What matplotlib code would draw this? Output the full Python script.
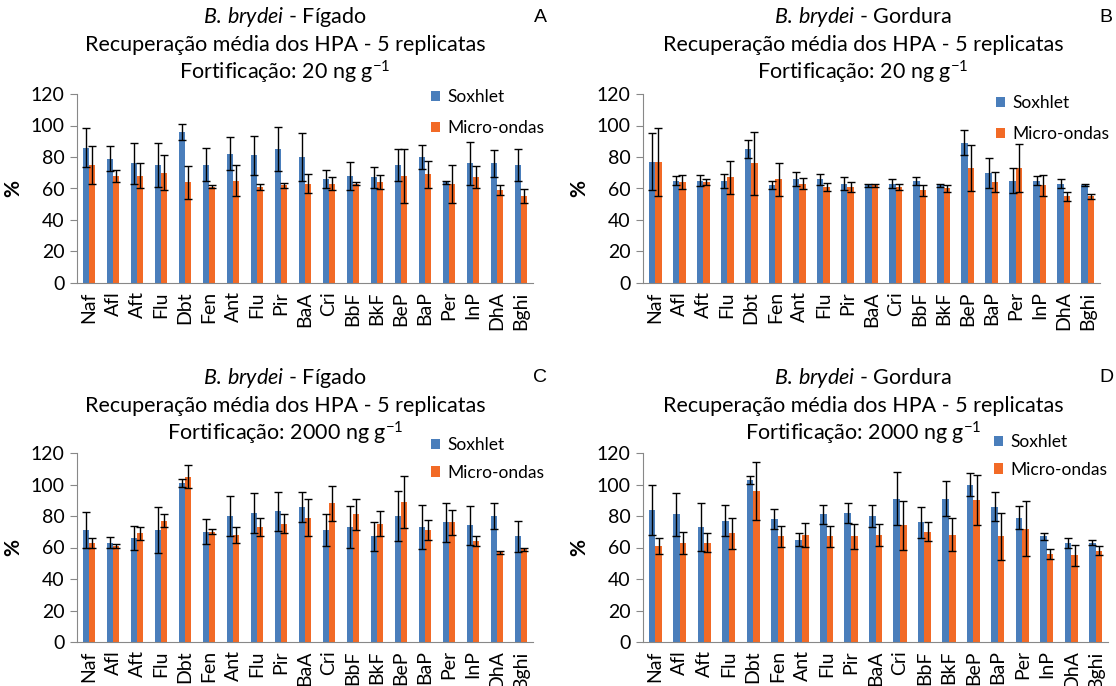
import matplotlib
matplotlib.use("Agg")
import matplotlib.pyplot as plt
import numpy as np

plt.rcParams['font.family'] = ['Lato', 'DejaVu Sans']
plt.rcParams['mathtext.fontset'] = 'custom'
plt.rcParams['mathtext.rm'] = 'Lato'
plt.rcParams['mathtext.it'] = 'Lato:italic'
plt.rcParams['mathtext.default'] = 'regular'

compounds = ['Naf', 'Afl', 'Aft', 'Flu', 'Dbt', 'Fen', 'Ant', 'Flu', 'Pir', 'BaA',
             'Cri', 'BbF', 'BkF', 'BeP', 'BaP', 'Per', 'InP', 'DhA', 'Bghi']

# Panel A - Figado, 20 ng/g
a_sox = [86, 79, 76, 75, 96, 75, 82, 81, 85, 80, 66, 68, 67, 75, 80, 64, 76, 76, 75]
a_sox_err = [12.5, 8, 13, 14, 5, 10.5, 10.5, 12.5, 14, 15, 5.5, 9, 6.5, 10, 7.5, 1, 13.5, 8.5, 10]
a_mic = [75, 68, 68, 70, 64, 61, 65, 61, 62, 63, 63, 63, 64, 68, 69, 63, 67, 59, 55]
a_mic_err = [12, 4, 8, 11, 10.5, 1, 10, 2, 1.5, 6, 4, 1, 4.5, 17, 8.5, 12, 7, 3, 4.5]

# Panel B - Gordura, 20 ng/g
b_sox = [77, 65, 65, 65, 85, 62, 66, 66, 63, 62, 63, 65, 62, 89, 70, 65, 65, 63, 62]
b_sox_err = [18, 3, 3.5, 4.5, 5.5, 2.5, 4.5, 3.5, 4, 1, 3, 2.5, 1, 8, 9.5, 8, 3, 3, 0.7]
b_mic = [77, 64, 64, 67, 76, 66, 63, 61, 61, 62, 61, 59, 60, 73, 64, 73, 62, 55, 55]
b_mic_err = [21.5, 4.5, 2, 10.5, 20, 10.5, 3.5, 2.5, 3, 1, 2, 3.5, 2, 14.5, 6.5, 15, 6.5, 3, 1.5]

# Panel C - Figado, 2000 ng/g
c_sox = [71, 63, 66, 71, 101, 70, 80, 82, 83, 86, 71, 73, 67, 80, 73, 76, 74, 80, 67]
c_sox_err = [11.5, 3.5, 7.5, 14.5, 2.5, 8, 13, 12.5, 12.5, 9.5, 10, 13.5, 9.5, 16, 14, 12.5, 12.5, 8, 10]
c_mic = [63, 61, 69, 77, 105, 70, 68, 73, 75, 79, 88, 81, 75, 89, 71, 76, 64, 57, 59]
c_mic_err = [3, 1.5, 4, 4, 7.5, 1.5, 5, 6, 6, 11.5, 11, 10, 8, 16.5, 6.5, 8, 3, 1, 1]

# Panel D - Gordura, 2000 ng/g
d_sox = [84, 81, 73, 77, 103, 78, 65, 81, 82, 80, 91, 76, 91, 100, 86, 79, 67, 63, 63]
d_sox_err = [16, 13.5, 15.5, 10, 2.5, 6.5, 4, 6, 6.5, 7, 17, 10, 11, 7.5, 9, 7.5, 2.5, 3, 1.5]
d_mic = [61, 63, 63, 69, 96, 67, 68, 67, 67, 68, 74, 70, 68, 90, 67, 72, 56, 55, 58]
d_mic_err = [5, 7, 6, 10, 18.5, 6.5, 7.5, 6.5, 8, 7, 15.5, 6, 10.5, 16, 15, 17.5, 3, 6.5, 3]

BLUE = '#4A7EBB'
ORANGE = '#F26A26'
W, H = 1116, 686

fig = plt.figure(figsize=(W / 100, H / 100), dpi=100)


def px_axes(left, right, y0, y120):
    return fig.add_axes([left / W, 1 - y0 / H, (right - left) / W, (y0 - y120) / H])


def draw_panel(ax, sox, sox_err, mic, mic_err):
    x = np.arange(len(compounds))
    bw = 0.27
    ekw = dict(ecolor='black', elinewidth=1, capsize=3, capthick=1)
    ax.bar(x - bw / 2, sox, bw, yerr=sox_err, color=BLUE, error_kw=ekw, label='Soxhlet')
    ax.bar(x + bw / 2, mic, bw, yerr=mic_err, color=ORANGE, error_kw=ekw, label='Micro-ondas')
    ax.set_xlim(-0.5, len(compounds) - 0.5)
    ax.set_ylim(0, 120)
    ax.set_yticks(range(0, 121, 20))
    ax.set_xticks(x)
    ax.set_xticklabels(compounds, rotation=90, fontsize=14)
    ax.tick_params(axis='x', length=0, pad=6)
    ax.tick_params(axis='y', labelsize=14, length=5, color='#888888', pad=4)
    for s in ['top', 'right']:
        ax.spines[s].set_visible(False)
    for s in ['left', 'bottom']:
        ax.spines[s].set_color('#888888')
    ax.set_ylabel('%', fontsize=15, fontweight='bold', labelpad=5)


panels = [
    (77, 533, 283, 94, a_sox, a_sox_err, a_mic, a_mic_err, 'Fígado', '20', 'A', 285, 17, 540, (431, 89), 0.85),
    (643, 1100, 283, 94, b_sox, b_sox_err, b_mic, b_mic_err, 'Gordura', '20', 'B', 863, 17, 1106, (996, 95), 0.85),
    (77, 533, 642, 453, c_sox, c_sox_err, c_mic, c_mic_err, 'Fígado', '2000', 'C', 285, 378, 540, (431, 437), 0.67),
    (643, 1108, 642, 453, d_sox, d_sox_err, d_mic, d_mic_err, 'Gordura', '2000', 'D', 863, 378, 1106, (994, 434), 0.67),
]

for (l, r, y0, y1, s, se, m, me, tissue, fort, letter, tx, ty, lx, leg, ls) in panels:
    ax = px_axes(l, r, y0, y1)
    draw_panel(ax, s, se, m, me)
    fig.text(tx / W, 1 - ty / H, r'$\mathit{B.}$$\,$$\mathit{brydei}$ - ' + tissue,
             ha='center', va='center', fontsize=15.5)
    fig.text(tx / W, 1 - (ty + 28) / H, 'Recuperação média dos HPA - 5 replicatas',
             ha='center', va='center', fontsize=15.5)
    fig.text(tx / W, 1 - (ty + 55) / H, 'Fortificação: ' + fort + r' ng g$^{-1}$',
             ha='center', va='center', fontsize=15.5)
    fig.text(lx / W, 1 - ty / H, letter, ha='center', va='center', fontsize=14,
             family='Liberation Sans')
    ax.legend(loc='upper left', bbox_to_anchor=(leg[0] / W, 1 - leg[1] / H),
              bbox_transform=fig.transFigure, frameon=False, fontsize=12.5,
              handlelength=0.52, handleheight=0.52, handletextpad=0.4,
              labelspacing=ls, borderaxespad=0, borderpad=0)

fig.savefig('out.png', dpi=100)
